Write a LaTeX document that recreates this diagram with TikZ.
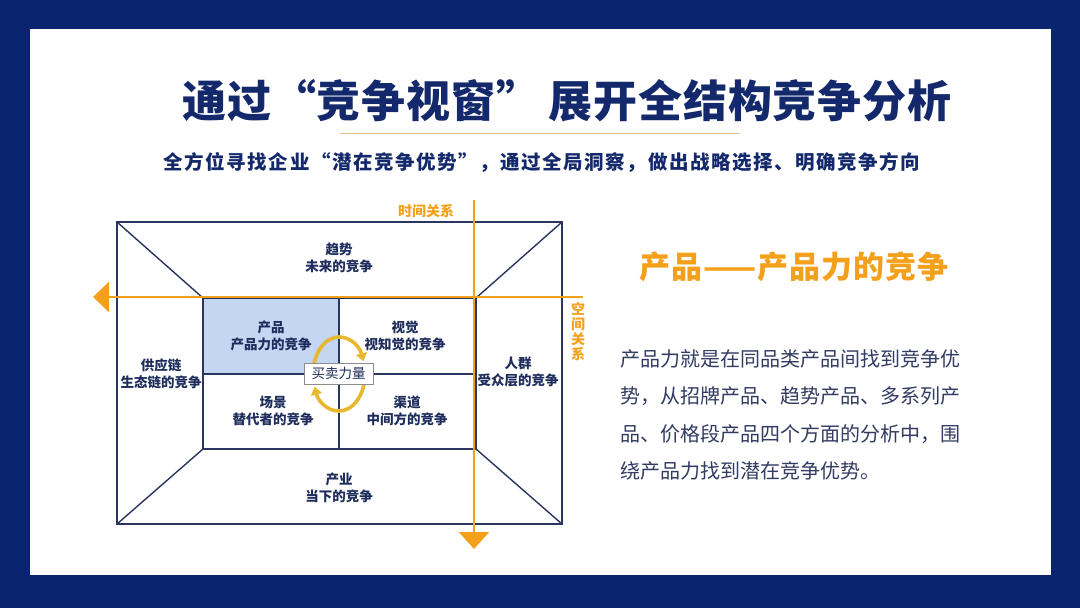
\documentclass[tikz,border=0pt]{standalone}
\usepackage{fontspec}
\setmainfont{Noto Sans CJK SC}
\usetikzlibrary{arrows.meta,calc}
\definecolor{frame}{HTML}{0B2470}
\definecolor{titlec}{HTML}{13296B}
\definecolor{linec}{HTML}{2A3560}
\definecolor{cellc}{HTML}{1E2D5C}
\definecolor{axisc}{HTML}{F5A01A}
\definecolor{goldc}{HTML}{E8B730}
\definecolor{lightblue}{HTML}{C5D6F2}
\definecolor{parac}{HTML}{323B62}
\definecolor{ulc}{HTML}{E6C583}
\begin{document}
\begin{tikzpicture}[x=1pt,y=-1pt,
  wire/.style={draw=linec,line width=1.4pt},
  celltext/.style={text=cellc,font=\bfseries\fontsize{13.5}{17}\selectfont,align=center,inner sep=0pt},
  axis/.style={draw=axisc,line width=2.4pt},
  axislabel/.style={text=axisc,font=\bfseries\fontsize{14}{15}\selectfont,align=center,inner sep=0pt},
  turn/.style={draw=goldc,line width=3.6pt,-{Triangle[length=8pt,width=11pt]}},
]
\useasboundingbox (0,0) rectangle (1080,608);
\fill[frame] (0,0) rectangle (1080,608);
\fill[white] (30,29) rectangle (1051,575);

% title
\node[text=titlec,font=\bfseries\fontsize{44}{46}\selectfont\addfontfeatures{LetterSpace=2},inner sep=0pt] (title) at (567,101) {通过“竞争视窗”\hspace{8pt}展开全结构竞争分析};
\draw[ulc,line width=0.9pt] (340,133) -- (740,133);
\node[text=titlec,font=\bfseries\fontsize{19.5}{21}\selectfont\addfontfeatures{LetterSpace=8},inner sep=0pt] (sub) at (542,162) {全方位寻找企业“潜在竞争优势”，通过全局洞察，做出战略选择、明确竞争方向};

% diagram
\fill[lightblue] (203,298) rectangle (339,374);
\coordinate (O1) at (117,222); \coordinate (O2) at (562,222);
\coordinate (O3) at (562,524); \coordinate (O4) at (117,524);
\coordinate (I1) at (203,298); \coordinate (I2) at (476,298);
\coordinate (I3) at (476,449); \coordinate (I4) at (203,449);
\coordinate (Mt) at (339,298); \coordinate (Mb) at (339,449);
\coordinate (Ml) at (203,374); \coordinate (Mr) at (476,374);
\draw[wire] (O1) -- (O2) -- (O3) -- (O4) -- cycle;
\draw[wire] (I1) -- (I2) -- (I3) -- (I4) -- cycle;
\draw[wire] (O1) -- (I1); \draw[wire] (O2) -- (I2);
\draw[wire] (O3) -- (I3); \draw[wire] (O4) -- (I4);
\draw[wire] (Mt) -- (Mb); \draw[wire] (Ml) -- (Mr);

\node[celltext] (trend) at (339,258) {趋势\\未来的竞争};
\node[celltext] (prod) at (271,336) {产品\\产品力的竞争};
\node[celltext] (vis) at (405,336) {视觉\\视知觉的竞争};
\node[celltext] (supply) at (161,374) {供应链\\生态链的竞争};
\node[celltext] (crowd) at (518,372) {人群\\受众层的竞争};
\node[celltext] (scene) at (273,411) {场景\\替代者的竞争};
\node[celltext] (chan) at (407,411) {渠道\\中间方的竞争};
\node[celltext] (ind) at (339,488) {产业\\当下的竞争};

% axes
\coordinate (hE) at (583,297); \coordinate (hW) at (93,297);
\coordinate (vN) at (474,200); \coordinate (vS) at (474,549);
\draw[axis,-{Triangle[length=16pt,width=30pt]}] (hE) -- (hW);
\draw[axis,-{Triangle[length=17pt,width=30pt]}] (vN) -- (vS);
\node[axislabel] (tl) at (426,211) {时间关系};
\node[axislabel] (sl) at (578,332) {空\\间\\关\\系};

% turning arrows (ellipse centre 339,374; rx 26, ry 37)
\coordinate (a1) at (313.4,380.4); \coordinate (a2) at (364.6,367.6);
\draw[turn] (a1) arc[start angle=190,end angle=20,x radius=26pt,y radius=37pt];
\draw[turn] (a2) arc[start angle=10,end angle=-160,x radius=26pt,y radius=37pt];
\node[draw=black!45,fill=white,line width=0.8pt,minimum width=69pt,minimum height=21pt,inner sep=0pt,text=cellc,font=\fontsize{13.5}{15}\selectfont] (force) at (338.5,373.5) {买卖力量};

% right side
\node[text=axisc,font=\bfseries\fontsize{31}{33}\selectfont\addfontfeatures{LetterSpace=3},inner sep=0pt] (head) at (794,267) {产品——产品力的竞争};
\node[text=parac,font=\fontsize{20}{37.5}\selectfont,align=left,anchor=west,inner sep=0pt] (para) at (620,415) {产品力就是在同品类产品间找到竞争优\\势，从招牌产品、趋势产品、多系列产\\品、价格段产品四个方面的分析中，围\\绕产品力找到潜在竞争优势。};
\end{tikzpicture}
\end{document}
